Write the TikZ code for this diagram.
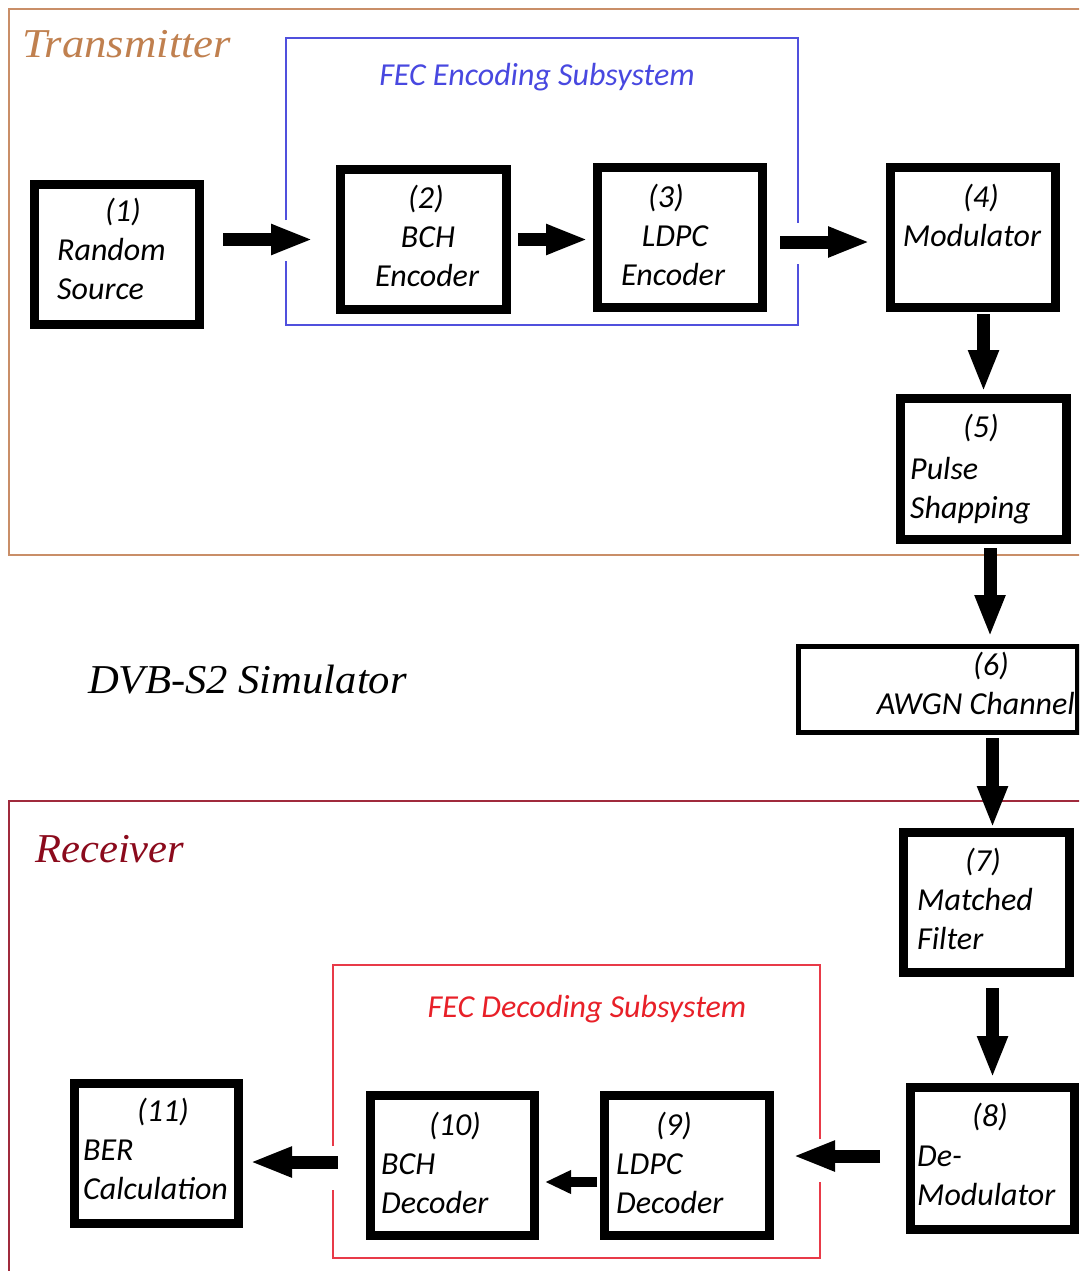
\documentclass[tikz,border=0pt]{standalone}
\usepackage{fontspec}
\usetikzlibrary{arrows.meta,calc}
\newfontfamily\calib{Carlito}
\newfontfamily\serifit[FakeStretch=1.04]{Liberation Serif}
\definecolor{txcol}{HTML}{C98E68}
\definecolor{txtext}{HTML}{C0804F}
\definecolor{rxcol}{HTML}{A02A3C}
\definecolor{rxtext}{HTML}{8B0A1C}
\definecolor{enccol}{HTML}{5050DD}
\definecolor{enctext}{HTML}{4848E0}
\definecolor{deccol}{HTML}{E83A48}
\definecolor{dectext}{HTML}{E82028}
\tikzset{
  blockbox/.style={draw=black, line width=9pt, fill=white, inner sep=0pt},
  chanbox/.style={draw=black, line width=5pt, fill=white, inner sep=0pt},
  lbl/.style={font=\calib\itshape\fontsize{32}{39}\selectfont, inner sep=0pt},
  title/.style={font=\serifit\itshape\fontsize{41}{48}\selectfont, inner sep=0pt},
  subtitle/.style={font=\calib\itshape\fontsize{32}{39}\selectfont, inner sep=0pt},
  barrow/.style={line width=13pt, -{Triangle[length=42pt,width=28pt]}},
  sarrow/.style={line width=10pt, -{Triangle[length=26pt,width=22pt]}},
  frame/.style={line width=2pt},
  subframe/.style={line width=1.5pt}
}
\begin{document}
\begin{tikzpicture}[x=1pt,y=-1pt]
\useasboundingbox (0,0) rectangle (1079,1271);
\fill[white] (0,0) rectangle (1079,1271);
\clip (0,0) rectangle (1079,1271);

% outer frames
\draw[frame, txcol] (1090,9) -- (9,9) -- (9,555) -- (1090,555);
\draw[frame, rxcol] (1090,801) -- (9,801) -- (9,1290);

% FEC subsystem frames, open where the arrows pass
\draw[subframe, enccol] (286,220) -- (286,38) -- (798,38) -- (798,223)
                        (798,264) -- (798,325) -- (286,325) -- (286,261);
\draw[subframe, deccol] (333,1146) -- (333,965) -- (820,965) -- (820,1139)
                        (820,1182) -- (820,1258) -- (333,1258) -- (333,1190);

% titles
\node[title, txtext, anchor=base west] (ttx) at (22,58) {\scalebox{1.05}[1]{Transmitter}};
\node[title, rxtext, anchor=base west] (trx) at (35,862) {Receiver};
\node[title, black, anchor=base west] (tsim) at (88,693) {DVB-S2 Simulator};
\node[subtitle, enctext, anchor=base] (tenc) at (537,86) {FEC Encoding Subsystem};
\node[subtitle, dectext, anchor=base] (tdec) at (587,1017) {FEC Decoding Subsystem};

% processing blocks
\node[blockbox, minimum width=165, minimum height=140] (b1) at (117,254.5) {};
\node[blockbox, minimum width=166, minimum height=140] (b2) at (423.5,239.5) {};
\node[blockbox, minimum width=165, minimum height=140] (b3) at (680,237.5) {};
\node[blockbox, minimum width=165, minimum height=140] (b4) at (973,237.5) {};
\node[blockbox, minimum width=166, minimum height=141] (b5) at (983.5,469) {};
\node[chanbox,  minimum width=279, minimum height=86]  (b6) at (938,689.5) {};
\node[blockbox, minimum width=166, minimum height=140] (b7) at (986.5,902.5) {};
\node[blockbox, minimum width=164, minimum height=142] (b8) at (992.5,1158.5) {};
\node[blockbox, minimum width=165, minimum height=140] (b9) at (687,1165.5) {};
\node[blockbox, minimum width=164, minimum height=140] (b10) at (452.5,1165.5) {};
\node[blockbox, minimum width=164, minimum height=140] (b11) at (156.5,1153.5) {};

% block labels
\node[lbl, anchor=base] (l1a) at (123,221) {(1)};
\node[lbl, anchor=base west] (l1b) at (57,260) {Random};
\node[lbl, anchor=base west] (l1c) at (57,299) {Source};

\node[lbl, anchor=base] (l2a) at (426,208) {(2)};
\node[lbl, anchor=base] (l2b) at (428,247) {BCH};
\node[lbl, anchor=base] (l2c) at (427,286) {Encoder};

\node[lbl, anchor=base] (l3a) at (666,207) {(3)};
\node[lbl, anchor=base] (l3b) at (675,246) {LDPC};
\node[lbl, anchor=base] (l3c) at (673,285) {Encoder};

\node[lbl, anchor=base] (l4a) at (981,207) {(4)};
\node[lbl, anchor=base] (l4b) at (972,246) {Modulator};

\node[lbl, anchor=base] (l5a) at (981,437) {(5)};
\node[lbl, anchor=base west] (l5b) at (910,479) {Pulse};
\node[lbl, anchor=base west] (l5c) at (910,518) {Shapping};

\node[lbl, anchor=base] (l6a) at (991,675) {(6)};
\node[lbl, anchor=base east] (l6b) at (1075,714) {AWGN Channel};

\node[lbl, anchor=base] (l7a) at (983,871) {(7)};
\node[lbl, anchor=base west] (l7b) at (917,910) {Matched};
\node[lbl, anchor=base west] (l7c) at (917,949) {Filter};

\node[lbl, anchor=base] (l8a) at (990,1126) {(8)};
\node[lbl, anchor=base west] (l8b) at (917,1166) {De-};
\node[lbl, anchor=base west] (l8c) at (917,1205) {Modulator};

\node[lbl, anchor=base] (l9a) at (674,1135) {(9)};
\node[lbl, anchor=base west] (l9b) at (616,1174) {LDPC};
\node[lbl, anchor=base west] (l9c) at (616,1213) {Decoder};

\node[lbl, anchor=base] (l10a) at (455,1135) {(10)};
\node[lbl, anchor=base west] (l10b) at (381,1174) {BCH};
\node[lbl, anchor=base west] (l10c) at (381,1213) {Decoder};

\node[lbl, anchor=base] (l11a) at (163,1121) {(11)};
\node[lbl, anchor=base west] (l11b) at (83,1160) {BER};
\node[lbl, anchor=base west] (l11c) at (83,1199) {Calculation};

% signal flow
\draw[barrow] ([xshift=19pt]b1.east |- b2.west) -- ([xshift=-23pt]b2.west);
\draw[barrow] ([xshift=7pt]b2.east) -- ([xshift=-5pt]b2.east -| b3.west);
\draw[barrow] ([xshift=13pt,yshift=-4.5pt]b3.east) -- ([xshift=-16pt,yshift=-4.5pt]b4.west);
\draw[barrow] ([yshift=-2pt]b5.north |- b4.south) -- ([yshift=2pt]b5.north);
\draw[barrow] ([xshift=6.5pt,yshift=-4pt]b5.south) -- ([xshift=6.5pt,yshift=7pt]b5.south |- b6.north);
\draw[barrow] ([yshift=-3pt]b8.north |- b6.south) -- (b8.north |- b7.north);
\draw[barrow] ([yshift=-11pt]b8.north |- b7.south) -- ([yshift=5pt]b8.north);
\draw[barrow] ([xshift=-26pt,yshift=2.5pt]b8.west) -- ([xshift=19pt,yshift=2.5pt]b8.west -| b9.east);
\draw[sarrow] ([xshift=-3pt,yshift=-16.5pt]b9.west) -- ([xshift=6pt,yshift=-16.5pt]b9.west -| b10.east);
\draw[barrow] ([xshift=-28pt,yshift=3.5pt]b10.west) -- ([xshift=7pt,yshift=3.5pt]b10.west -| b11.east);
\end{tikzpicture}
\end{document}
